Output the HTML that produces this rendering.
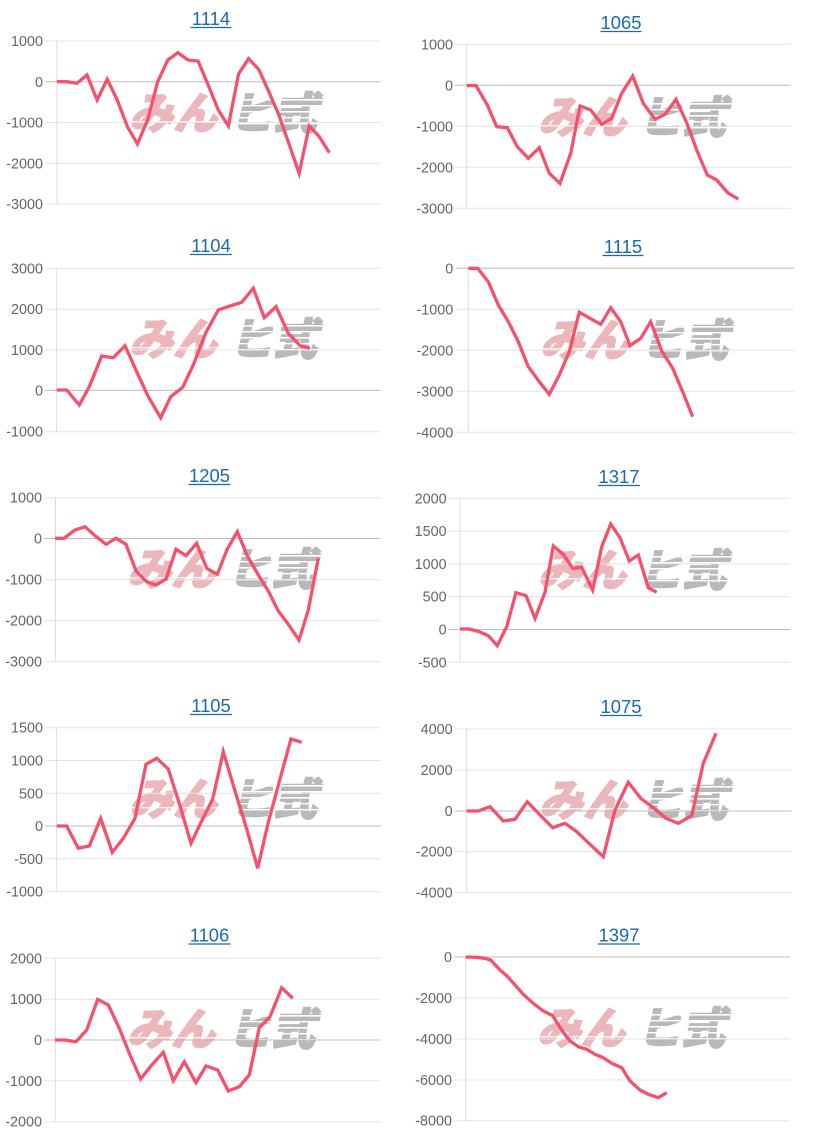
<!DOCTYPE html>
<html>
<head>
<meta charset="utf-8">
<style>
  html,body{margin:0;padding:0;background:#fff;}
  svg{display:block;}
  .lbl{font-family:"Liberation Sans",Arial,sans-serif;font-size:14.4px;fill:#666;text-anchor:end;}
  .ttl{font-family:"Liberation Sans",Arial,sans-serif;font-size:18.4px;fill:#1b68b4;text-anchor:middle;}
  .g{stroke:#e4e4e4;stroke-width:1;}
  .z{stroke:#bdbdbd;stroke-width:1;}
  .ax{stroke:#dcdcdc;stroke-width:1;}
  .ln{fill:none;stroke:#f4516c;stroke-width:3.3;stroke-linejoin:miter;stroke-miterlimit:4;}
  .wp{font-family:"Noto Sans CJK JP","IPAGothic",sans-serif;font-weight:900;font-size:44px;fill:#ebb7bb;stroke:#ebb7bb;stroke-width:1.5;stroke-linejoin:round;}
  .wg{font-family:"Noto Sans CJK JP","IPAGothic",sans-serif;font-weight:900;font-size:44px;fill:#b9b9b9;stroke:#b9b9b9;stroke-width:1.5;stroke-linejoin:round;}
</style>
</head>
<body>
<svg width="815" height="1135" viewBox="0 0 815 1135" xmlns="http://www.w3.org/2000/svg">
<defs>
  <g id="wm">
    <g transform="skewX(-14)">
      <text class="wp" x="8" y="36">みん</text>
      <text class="wg" x="108" y="36">ヒ式</text>
    </g>
    <rect x="96" y="6" width="106" height="1.6" fill="#fff"/>
    <rect x="96" y="12" width="106" height="1.4" fill="#fff"/>
    <rect x="96" y="18" width="106" height="1.6" fill="#fff"/>
    <rect x="96" y="24" width="106" height="1.4" fill="#fff"/>
    <rect x="96" y="30" width="106" height="1.4" fill="#fff"/>
    <rect x="0" y="28" width="96" height="1.4" fill="#fff" opacity="0.8"/>
  </g>
</defs>

<!-- watermarks first (behind grid) -->
<use href="#wm" transform="translate(130,93)"/>
<use href="#wm" transform="translate(539,97)"/>
<use href="#wm" transform="translate(130,319)"/>
<use href="#wm" transform="translate(541,320)"/>
<use href="#wm" transform="translate(128,549)"/>
<use href="#wm" transform="translate(539,550)"/>
<use href="#wm" transform="translate(130,779)"/>
<use href="#wm" transform="translate(540,780)"/>
<use href="#wm" transform="translate(128,1009)"/>
<use href="#wm" transform="translate(538,1008)"/>

<!-- ================= C1 1114 ================= -->
<g>
  <text class="ttl" x="211" y="25">1114</text>
  <line x1="190.5" y1="27.5" x2="231.5" y2="27.5" stroke="#1b68b4" stroke-width="1.3"/>
  <line class="g" x1="45" y1="41" x2="380.7" y2="41"/>
  <line class="z" x1="45" y1="81.75" x2="380.7" y2="81.75"/>
  <line class="g" x1="45" y1="122.5" x2="380.7" y2="122.5"/>
  <line class="g" x1="45" y1="163.25" x2="380.7" y2="163.25"/>
  <line class="g" x1="45" y1="204" x2="380.7" y2="204"/>
  <line class="ax" x1="57" y1="41" x2="57" y2="204"/>
  <text class="lbl" x="43" y="46">1000</text>
  <text class="lbl" x="43" y="86.75">0</text>
  <text class="lbl" x="43" y="127.5">-1000</text>
  <text class="lbl" x="43" y="168.25">-2000</text>
  <text class="lbl" x="43" y="209">-3000</text>
  <polyline class="ln" points="56.7,81.7 66.8,81.7 76.9,83.3 87,75 97.1,100 107.2,79.3 117.3,100 127.4,126.7 137.5,144 147.6,120 157.7,81.7 167.8,60 177.9,52.7 188,60 198.1,61 208.2,85 218.3,110 228.4,126 238.5,74 248.6,58.7 258.7,69.3 268.8,91.7 278.9,115 289,144 299.1,173.3 309.2,126 319.3,136.7 329.4,152.7"/>
</g>

<!-- ================= C2 1065 ================= -->
<g>
  <text class="ttl" x="621" y="29">1065</text>
  <line x1="600.5" y1="31.5" x2="641.5" y2="31.5" stroke="#1b68b4" stroke-width="1.3"/>
  <line class="g" x1="455" y1="44.3" x2="790.7" y2="44.3"/>
  <line class="z" x1="455" y1="85.3" x2="790.7" y2="85.3"/>
  <line class="g" x1="455" y1="126.3" x2="790.7" y2="126.3"/>
  <line class="g" x1="455" y1="167.3" x2="790.7" y2="167.3"/>
  <line class="g" x1="455" y1="208.3" x2="790.7" y2="208.3"/>
  <line class="ax" x1="466.7" y1="44.3" x2="466.7" y2="208.3"/>
  <text class="lbl" x="453" y="49.3">1000</text>
  <text class="lbl" x="453" y="90.3">0</text>
  <text class="lbl" x="453" y="131.3">-1000</text>
  <text class="lbl" x="453" y="172.3">-2000</text>
  <text class="lbl" x="453" y="213.3">-3000</text>
  <polyline class="ln" points="466.7,85.5 476,85.5 487.3,105 496.7,126.7 507.3,127.7 517.3,146.7 528.3,158.3 539.3,147.7 549.3,173.3 560,183.3 570.7,153.3 580,106 590.7,110 601.7,124.3 611.7,118.3 621.7,93.3 632.7,76 643.3,103.3 655,119.3 665,114.3 676,99.3 686.7,122.7 696.7,150 707.3,175 716.7,180 728.3,193.3 738.3,199"/>
</g>

<!-- ================= C3 1104 ================= -->
<g>
  <text class="ttl" x="211" y="252">1104</text>
  <line x1="190" y1="254.5" x2="232" y2="254.5" stroke="#1b68b4" stroke-width="1.3"/>
  <line class="g" x1="45" y1="268.3" x2="380.7" y2="268.3"/>
  <line class="g" x1="45" y1="309.2" x2="380.7" y2="309.2"/>
  <line class="g" x1="45" y1="350" x2="380.7" y2="350"/>
  <line class="z" x1="45" y1="390.4" x2="380.7" y2="390.4"/>
  <line class="g" x1="45" y1="431.7" x2="380.7" y2="431.7"/>
  <line class="ax" x1="56.7" y1="268.3" x2="56.7" y2="431.7"/>
  <text class="lbl" x="43" y="273.3">3000</text>
  <text class="lbl" x="43" y="314.2">2000</text>
  <text class="lbl" x="43" y="355">1000</text>
  <text class="lbl" x="43" y="395.4">0</text>
  <text class="lbl" x="43" y="436.7">-1000</text>
  <polyline class="ln" points="56.7,390 66.7,390 79.3,405 89.3,386.7 101.7,356 113.3,357.7 125,345.7 136.7,371.7 148.3,396.7 160.7,417.7 170.7,396.7 182.7,387.3 193.3,365 206,332.3 218.3,310 230,306 241.7,302.3 253.3,288.3 264.3,317.7 276,306.7 288.3,333.3 300,345.7 310,348.3"/>
</g>

<!-- ================= C4 1115 ================= -->
<g>
  <text class="ttl" x="623" y="253">1115</text>
  <line x1="602.5" y1="255.5" x2="643.5" y2="255.5" stroke="#1b68b4" stroke-width="1.3"/>
  <line class="z" x1="456" y1="268.3" x2="794" y2="268.3"/>
  <line class="g" x1="456" y1="309.3" x2="794" y2="309.3"/>
  <line class="g" x1="456" y1="350.3" x2="794" y2="350.3"/>
  <line class="g" x1="456" y1="391.3" x2="794" y2="391.3"/>
  <line class="g" x1="456" y1="432.3" x2="794" y2="432.3"/>
  <line class="ax" x1="468.3" y1="268.3" x2="468.3" y2="432.3"/>
  <text class="lbl" x="453.3" y="273.3">0</text>
  <text class="lbl" x="453.3" y="314.3">-1000</text>
  <text class="lbl" x="453.3" y="355.3">-2000</text>
  <text class="lbl" x="453.3" y="396.3">-3000</text>
  <text class="lbl" x="453.3" y="437.3">-4000</text>
  <polyline class="ln" points="468.3,268.3 477.7,268.3 488.3,281.7 498.3,305 508.3,321.7 518.3,341.7 528.3,366.7 539.3,381.7 549.3,394.3 559.3,375 569.3,351.7 579.3,312.3 590,318.3 600.7,324.3 610.7,307.7 620.7,321.7 630,345.7 640.7,338.3 650.7,321.7 661.7,351 672.7,368.3 682.7,391.7 692.7,416.7"/>
</g>

<!-- ================= C5 1205 ================= -->
<g>
  <text class="ttl" x="209.5" y="482">1205</text>
  <line x1="188.5" y1="484.5" x2="230.5" y2="484.5" stroke="#1b68b4" stroke-width="1.3"/>
  <line class="g" x1="44" y1="497.7" x2="380" y2="497.7"/>
  <line class="z" x1="44" y1="538.5" x2="380" y2="538.5"/>
  <line class="g" x1="44" y1="579.7" x2="380" y2="579.7"/>
  <line class="g" x1="44" y1="620.7" x2="380" y2="620.7"/>
  <line class="g" x1="44" y1="661.7" x2="380" y2="661.7"/>
  <line class="ax" x1="55.5" y1="497.7" x2="55.5" y2="661.7"/>
  <text class="lbl" x="42" y="502.7">1000</text>
  <text class="lbl" x="42" y="543.5">0</text>
  <text class="lbl" x="42" y="584.7">-1000</text>
  <text class="lbl" x="42" y="625.7">-2000</text>
  <text class="lbl" x="42" y="666.7">-3000</text>
  <polyline class="ln" points="55,538.3 64,538.3 75,530 85,526.7 95,535.7 106,544.3 116,538.3 126,544.3 136,571 146.7,581.7 156,585 166,579 176,549.3 186,555.7 196.7,543.3 206.7,568.3 217.3,574.3 227.3,549 237.3,531.7 247.3,555.7 257.3,573.3 268.3,591 278.3,611 288.3,624.3 299,640 308.3,610 318.3,558.3"/>
</g>

<!-- ================= C6 1317 ================= -->
<g>
  <text class="ttl" x="619" y="483">1317</text>
  <line x1="598" y1="485.5" x2="640" y2="485.5" stroke="#1b68b4" stroke-width="1.3"/>
  <line class="g" x1="448.5" y1="498.3" x2="790" y2="498.3"/>
  <line class="g" x1="448.5" y1="531.1" x2="790" y2="531.1"/>
  <line class="g" x1="448.5" y1="563.9" x2="790" y2="563.9"/>
  <line class="g" x1="448.5" y1="596.7" x2="790" y2="596.7"/>
  <line class="z" x1="448.5" y1="629.5" x2="790" y2="629.5"/>
  <line class="g" x1="448.5" y1="662.3" x2="790" y2="662.3"/>
  <line class="ax" x1="460" y1="498.3" x2="460" y2="662.3"/>
  <text class="lbl" x="446.7" y="503.3">2000</text>
  <text class="lbl" x="446.7" y="536.1">1500</text>
  <text class="lbl" x="446.7" y="568.9">1000</text>
  <text class="lbl" x="446.7" y="601.7">500</text>
  <text class="lbl" x="446.7" y="634.5">0</text>
  <text class="lbl" x="446.7" y="667.3">-500</text>
  <polyline class="ln" points="460,629 469.3,629 479.3,631.7 488.3,635.7 497.3,645.7 506.7,626.7 516,592.7 526,595.7 535,618.3 545,592.3 553.3,546 563.3,554.3 572.7,568.3 581.7,567.3 592.7,590 601.7,546.7 610.7,524 620,537.7 629.3,561 638.3,555 648.3,587.7 656.7,592.3"/>
</g>

<!-- ================= C7 1105 ================= -->
<g>
  <text class="ttl" x="211" y="712">1105</text>
  <line x1="190" y1="714.5" x2="232" y2="714.5" stroke="#1b68b4" stroke-width="1.3"/>
  <line class="g" x1="45" y1="727.7" x2="381" y2="727.7"/>
  <line class="g" x1="45" y1="760.5" x2="381" y2="760.5"/>
  <line class="g" x1="45" y1="793.3" x2="381" y2="793.3"/>
  <line class="z" x1="45" y1="826" x2="381" y2="826"/>
  <line class="g" x1="45" y1="858.8" x2="381" y2="858.8"/>
  <line class="g" x1="45" y1="891.7" x2="381" y2="891.7"/>
  <line class="ax" x1="56.7" y1="727.7" x2="56.7" y2="891.7"/>
  <text class="lbl" x="43" y="732.7">1500</text>
  <text class="lbl" x="43" y="765.5">1000</text>
  <text class="lbl" x="43" y="798.3">500</text>
  <text class="lbl" x="43" y="831">0</text>
  <text class="lbl" x="43" y="863.8">-500</text>
  <text class="lbl" x="43" y="896.7">-1000</text>
  <polyline class="ln" points="56.7,826 66.7,826 78.3,848.3 89.3,846 100.7,818.3 112.3,852.3 123.3,838.3 135,818.3 146,764.3 156.7,758.3 168.3,769 180,805.7 191,843.3 201.7,821 212.7,799 223.3,751.7 235,791 246.7,829 257.7,868.3 268.3,822.3 280,779 291,739 301.7,742.3"/>
</g>

<!-- ================= C8 1075 ================= -->
<g>
  <text class="ttl" x="621" y="713">1075</text>
  <line x1="600" y1="715.5" x2="642" y2="715.5" stroke="#1b68b4" stroke-width="1.3"/>
  <line class="g" x1="455" y1="729" x2="791.7" y2="729"/>
  <line class="g" x1="455" y1="770" x2="791.7" y2="770"/>
  <line class="z" x1="455" y1="811" x2="791.7" y2="811"/>
  <line class="g" x1="455" y1="851.7" x2="791.7" y2="851.7"/>
  <line class="g" x1="455" y1="892.3" x2="791.7" y2="892.3"/>
  <line class="ax" x1="466.7" y1="729" x2="466.7" y2="892.3"/>
  <text class="lbl" x="452.7" y="734">4000</text>
  <text class="lbl" x="452.7" y="775">2000</text>
  <text class="lbl" x="452.7" y="816">0</text>
  <text class="lbl" x="452.7" y="856.7">-2000</text>
  <text class="lbl" x="452.7" y="897.3">-4000</text>
  <polyline class="ln" points="466.7,811 478.3,811 490,806.7 503.3,821 515,819.3 527.3,801.7 540,815 552.7,827.7 565,823.3 576.7,831.7 590,844.3 603.3,856.7 615,810 628.3,782.3 640.7,798.3 653.3,807.7 666,818.3 678.3,823.3 691.7,815.7 703.3,763.3 716,733.3"/>
</g>

<!-- ================= C9 1106 ================= -->
<g>
  <text class="ttl" x="209.5" y="941.5">1106</text>
  <line x1="188.5" y1="944" x2="230.5" y2="944" stroke="#1b68b4" stroke-width="1.3"/>
  <line class="g" x1="44" y1="958.3" x2="380" y2="958.3"/>
  <line class="g" x1="44" y1="999.2" x2="380" y2="999.2"/>
  <line class="z" x1="44" y1="1040" x2="380" y2="1040"/>
  <line class="g" x1="44" y1="1080.8" x2="380" y2="1080.8"/>
  <line class="g" x1="44" y1="1121.7" x2="380" y2="1121.7"/>
  <line class="ax" x1="55.3" y1="958.3" x2="55.3" y2="1121.7"/>
  <text class="lbl" x="42" y="963.3">2000</text>
  <text class="lbl" x="42" y="1004.2">1000</text>
  <text class="lbl" x="42" y="1045">0</text>
  <text class="lbl" x="42" y="1085.8">-1000</text>
  <text class="lbl" x="42" y="1126.7">-2000</text>
  <polyline class="ln" points="55,1040 65,1040 76,1041.7 86.7,1030 97.7,999.3 108.3,1005 119.3,1028.3 130,1055 140.7,1079 151.7,1065 163.3,1052.3 173.3,1080.7 184.3,1061.7 196,1082.7 206,1066 217.7,1070 228.3,1091 239.3,1086.7 249.3,1075 259.3,1027.7 270,1016.7 281.7,987.7 292.7,998.3"/>
</g>

<!-- ================= C10 1397 ================= -->
<g>
  <text class="ttl" x="619" y="941.5">1397</text>
  <line x1="598" y1="944" x2="640" y2="944" stroke="#1b68b4" stroke-width="1.3"/>
  <line class="z" x1="454" y1="957" x2="790" y2="957"/>
  <line class="g" x1="454" y1="998" x2="790" y2="998"/>
  <line class="g" x1="454" y1="1039" x2="790" y2="1039"/>
  <line class="g" x1="454" y1="1080" x2="790" y2="1080"/>
  <line class="g" x1="454" y1="1120.7" x2="790" y2="1120.7"/>
  <line class="ax" x1="465.7" y1="957" x2="465.7" y2="1120.7"/>
  <text class="lbl" x="452" y="962">0</text>
  <text class="lbl" x="452" y="1003">-2000</text>
  <text class="lbl" x="452" y="1044">-4000</text>
  <text class="lbl" x="452" y="1085">-6000</text>
  <text class="lbl" x="452" y="1125.7">-8000</text>
  <polyline class="ln" points="465.7,957 476.7,957.3 485,958.3 490.7,960 500,970 506.7,975.7 515,985 523.3,994.3 533.3,1003.3 543.3,1011 552.7,1015.7 561.7,1030 570,1041 578.3,1046.7 586.7,1049.3 595,1054.3 603.3,1057.7 611.7,1063.3 621.7,1067.7 630,1081 640,1090 648.3,1094.3 658.3,1097.7 666.7,1092.7"/>
</g>
</svg>
</body>
</html>
